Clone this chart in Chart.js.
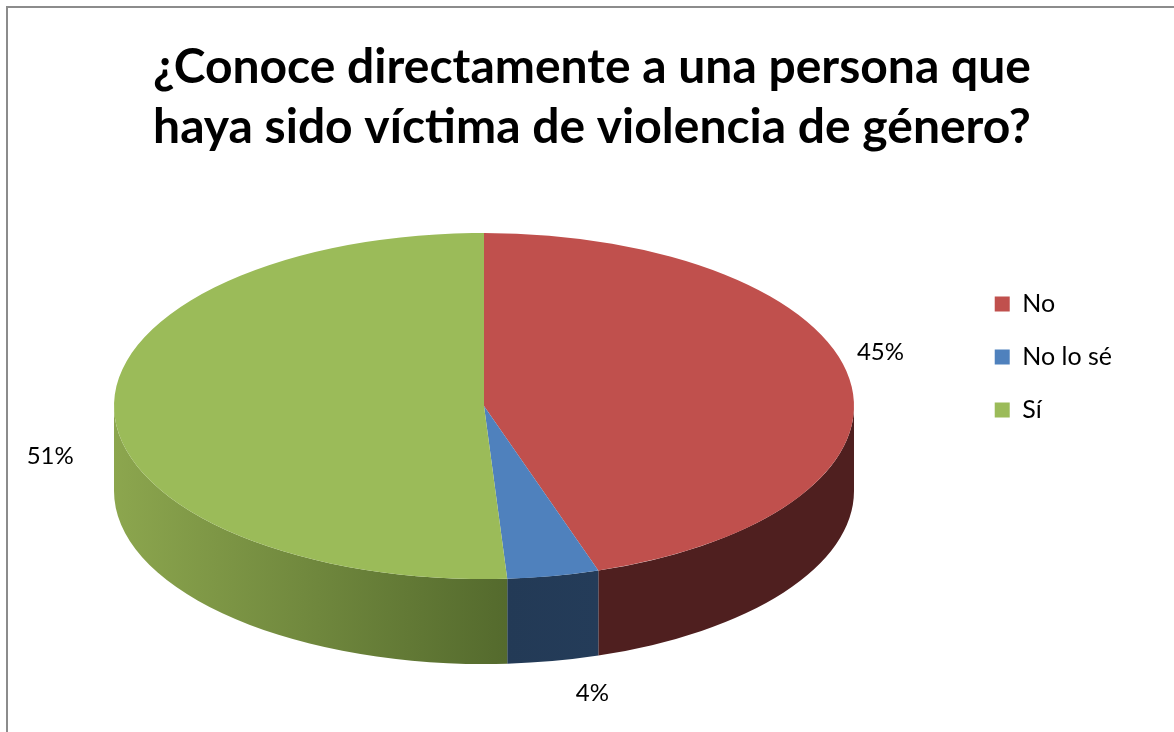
<!DOCTYPE html>
<html>
<head>
<meta charset="utf-8">
<script src="https://cdn.jsdelivr.net/npm/chart.js@4.4.1/dist/chart.umd.min.js"></script>
<style>
  body { margin: 0; background: #fff; overflow: hidden; }
  #wrap { position: relative; width: 1174px; height: 732px; overflow: hidden; }
  #frame { position: absolute; left: 6px; top: 6px; width: 1300px; height: 900px; border: 2px solid #8c8c8c; }
  #myChart { position: absolute; left: 0; top: 0; }
</style>
</head>
<body>
<div id="wrap">
  <div id="frame"></div>
  <canvas id="myChart" width="1174" height="732"></canvas>
</div>
<script>
const titleLines = ["¿Conoce directamente a una persona que", "haya sido víctima de violencia de género?"];
const categories = ["No", "No lo sé", "Sí"];
const percentages = [45, 4, 51];
const percentLabels = ["45%", "4%", "51%"];

const topColors = ["#c0504d", "#4f81bd", "#9bbb59"];
const sideColors = [["#4f1f1f", "#4f1f1f"], ["#243c59", "#233a56"], ["#8ca64e", "#546a2d"]];
const labelNudge = [[31, -27], [39, 32], [-64, 45]];

// ellipse geometry of the "3d" pie (pixels)
const CX = 484, CY = 406, RX = 370, RY = 173, DEPTH = 85;

const pie3d = {
  id: "pie3d",
  beforeDatasetsDraw(chart) {
    const ctx = chart.ctx;
    const arcs = chart.getDatasetMeta(0).data;
    ctx.save();
    // side walls (front half only)
    arcs.forEach((arc, i) => {
      let a = arc.startAngle, b = arc.endAngle;
      let segs = [[a, b], [a - 2 * Math.PI, b - 2 * Math.PI], [a + 2 * Math.PI, b + 2 * Math.PI]];
      segs.forEach(([s, e]) => {
        const s2 = Math.max(s, 0), e2 = Math.min(e, Math.PI);
        if (e2 <= s2) return;
        const x1 = CX + RX * Math.cos(s2), x2 = CX + RX * Math.cos(e2);
        const g = ctx.createLinearGradient(Math.min(x1, x2), 0, Math.max(x1, x2), 0);
        g.addColorStop(0, sideColors[i][i == 2 ? 0 : 1]);
        g.addColorStop(1, sideColors[i][i == 2 ? 1 : 0]);
        ctx.beginPath();
        ctx.ellipse(CX, CY, RX, RY, 0, s2, e2);
        ctx.ellipse(CX, CY + DEPTH, RX, RY, 0, e2, s2, true);
        ctx.closePath();
        ctx.fillStyle = g;
        ctx.fill();
      });
    });
    // squash the top face into an ellipse
    const arc0 = arcs[0];
    const R = arc0.outerRadius;
    ctx.translate(CX, CY);
    ctx.scale(RX / R, RY / R);
    ctx.translate(-arc0.x, -arc0.y);
  },
  afterDatasetsDraw(chart) {
    const ctx = chart.ctx;
    ctx.restore();
    const arcs = chart.getDatasetMeta(0).data;
    ctx.save();
    ctx.font = "24px Lato";
    ctx.fillStyle = "#000";
    ctx.textAlign = "center";
    ctx.textBaseline = "middle";
    arcs.forEach((arc, i) => {
      const m = (arc.startAngle + arc.endAngle) / 2;
      let x = CX + RX * Math.cos(m);
      let y = CY + RY * Math.sin(m) + (Math.sin(m) > 0.5 ? DEPTH : 0);
      ctx.fillText(percentLabels[i], x + labelNudge[i][0], y + labelNudge[i][1]);
    });
    ctx.restore();
  }
};

let ctx1 = document.getElementById("myChart").getContext("2d");
let myChart = new Chart(ctx1, {
  type: "pie",
  data: {
    labels: categories,
    datasets: [
      {
        data: percentages,
        backgroundColor: topColors,
        borderWidth: 0,
      },
    ],
  },
  options: {
    responsive: false,
    animation: false,
    devicePixelRatio: 1,
    layout: { padding: { left: 62, right: 52, bottom: 18 } },
    plugins: {
      title: {
        display: true,
        text: titleLines,
        color: "#000",
        font: { family: "Lato", size: 48, weight: "bold", lineHeight: 1.25 },
        padding: { top: 38, bottom: 10 },
      },
      legend: {
        position: "right",
        labels: {
          color: "#000",
          boxWidth: 15,
          boxHeight: 15,
          padding: 28,
          font: { family: "Lato", size: 25 },
        },
      },
      tooltip: { enabled: false },
    },
  },
  plugins: [pie3d],
});
</script>
</body>
</html>
